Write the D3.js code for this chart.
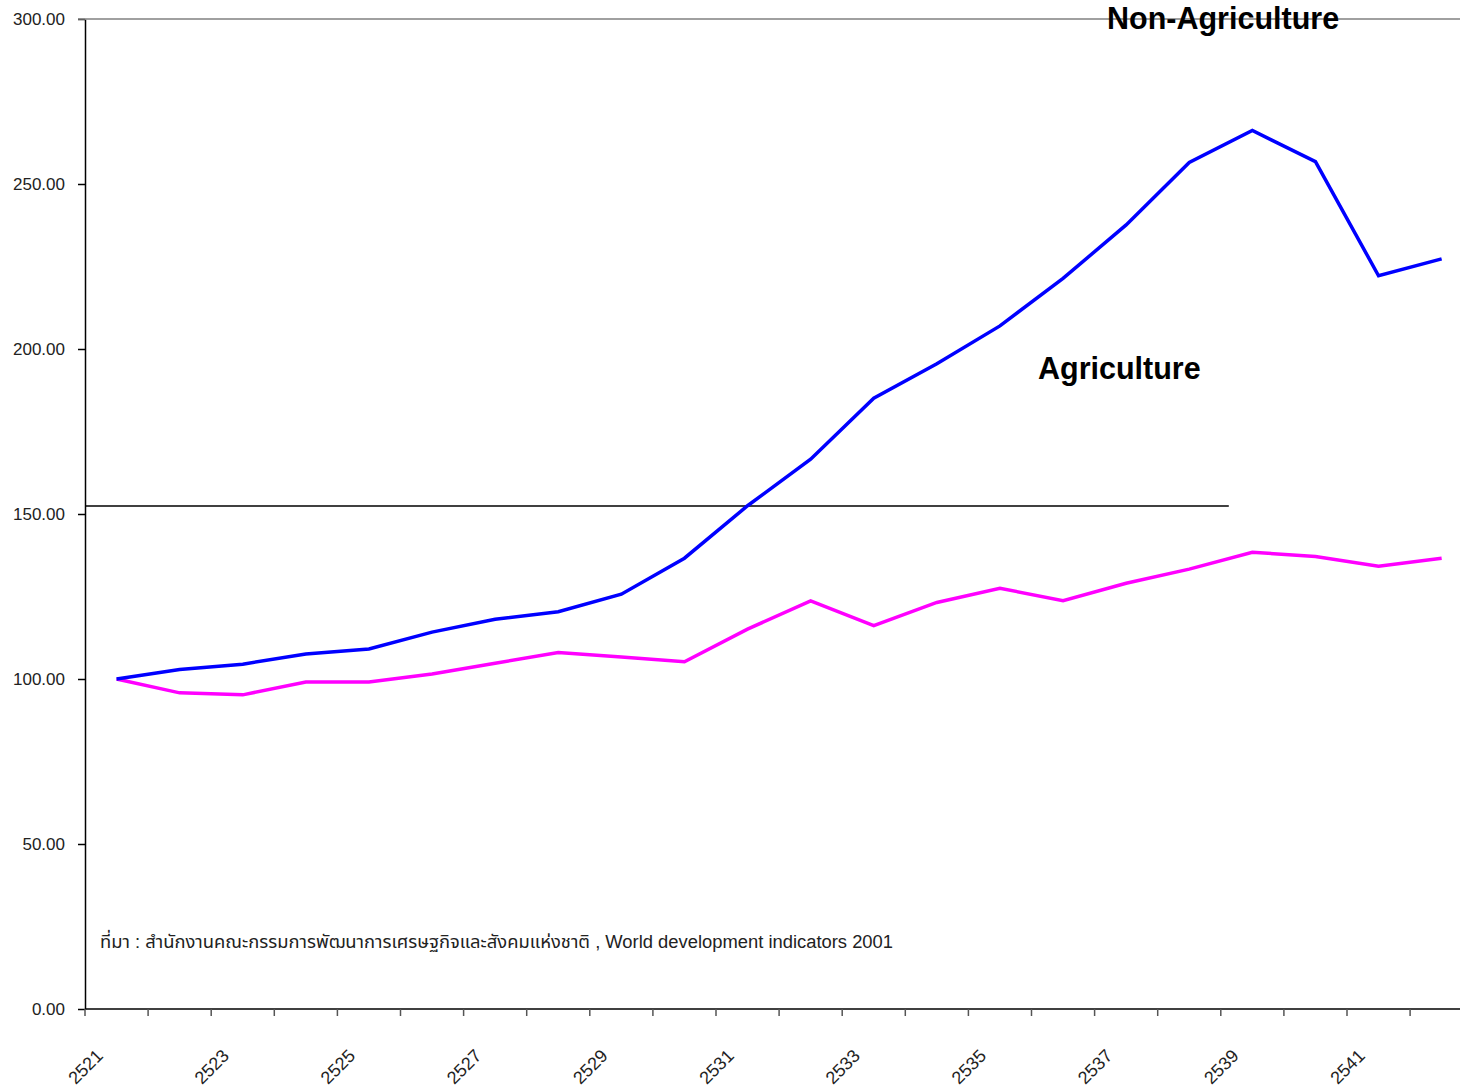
<!DOCTYPE html>
<html>
<head>
<meta charset="utf-8">
<script src="https://cdn.jsdelivr.net/npm/d3@7"></script>
<style>
  body { margin: 0; background: #fff; }
  svg { display: block; font-family: "Liberation Sans", Arial, sans-serif; }
</style>
</head>
<body>
<div id="chart"></div>
<script>
// Index values, base year 2521 = 100
var years = ["2521","2522","2523","2524","2525","2526","2527","2528","2529","2530","2531",
             "2532","2533","2534","2535","2536","2537","2538","2539","2540","2541","2542"];
var nonAgri = [100, 102.9, 104.5, 107.6, 109.1, 114.2, 118.1, 120.4, 125.7, 136.6, 152.5,
               166.6, 185.1, 195.5, 207.0, 221.4, 237.6, 256.5, 266.2, 256.8, 222.2, 227.3];
var agri = [100, 95.8, 95.2, 99.1, 99.1, 101.5, 104.8, 108.0, 106.7, 105.2, 115.1,
            123.7, 116.2, 123.2, 127.5, 123.7, 129.0, 133.3, 138.4, 137.1, 134.2, 136.6];
var yTicks = [0, 50, 100, 150, 200, 250, 300];
var labelYears = years.filter(function(d, i) { return i % 2 === 0; });
var refValue = 152.4;     // horizontal marker line
var refEndYear = "2539";
var sourceText = "ที่มา : สำนักงานคณะกรรมการพัฒนาการเศรษฐกิจและสังคมแห่งชาติ , World development indicators 2001";

var W = 1460, H = 1087;
var margin = {top: 19, left: 85, bottom: 78};
var band = 63.1;

var svg = d3.select("#chart").append("svg")
  .attr("width", W)
  .attr("height", H);

var x = d3.scaleBand()
  .domain(years)
  .range([margin.left, margin.left + band * years.length]);

var y = d3.scaleLinear()
  .domain([0, 300])
  .range([H - margin.bottom, margin.top]);

var cx = function(i) { return x(years[i]) + x.bandwidth() / 2; };

// Y axis
var yAxis = svg.append("g")
  .attr("transform", "translate(" + margin.left + ",0)")
  .call(d3.axisLeft(y).tickValues(yTicks).tickFormat(d3.format(".2f"))
    .tickSize(7).tickSizeOuter(0).tickPadding(13));
yAxis.select(".domain").attr("stroke", "#000").attr("stroke-width", 1.5);
yAxis.selectAll(".tick line").attr("stroke", "#000").attr("stroke-width", 1.5);
yAxis.selectAll("text")
  .style("font-size", "17px")
  .style("fill", "#222")
  .style("font-family", "Liberation Sans, Arial, sans-serif");

// top border
svg.append("line")
  .attr("x1", margin.left - 7).attr("x2", W)
  .attr("y1", y(300)).attr("y2", y(300))
  .attr("stroke", "#808080").attr("stroke-width", 1.5);

// X axis baseline + ticks at band boundaries
svg.append("line")
  .attr("x1", margin.left).attr("x2", W)
  .attr("y1", y(0)).attr("y2", y(0))
  .attr("stroke", "#000").attr("stroke-width", 1.5);

svg.selectAll(".xtick")
  .data(years)
  .enter()
  .append("line")
  .attr("class", "xtick")
  .attr("x1", function(d) { return x(d); })
  .attr("x2", function(d) { return x(d); })
  .attr("y1", y(0))
  .attr("y2", y(0) + 7)
  .attr("stroke", "#555")
  .attr("stroke-width", 1.5);

svg.selectAll(".xlabel")
  .data(labelYears)
  .enter()
  .append("text")
  .attr("class", "xlabel")
  .attr("transform", function(d) {
    return "translate(" + (x(d) + 19) + "," + (y(0) + 48) + ")rotate(-45)";
  })
  .attr("text-anchor", "end")
  .style("font-size", "18px")
  .style("fill", "#222")
  .text(function(d) { return d; });

// reference line
svg.append("line")
  .attr("x1", margin.left)
  .attr("x2", x(refEndYear) + 8)
  .attr("y1", y(refValue)).attr("y2", y(refValue))
  .attr("stroke", "#000").attr("stroke-width", 1.5);

// Lines
var line = d3.line()
  .x(function(d, i) { return cx(i); })
  .y(function(d) { return y(d); });

svg.append("path")
  .datum(agri)
  .attr("d", line)
  .attr("fill", "none")
  .attr("stroke", "#ff00ff")
  .attr("stroke-width", 3.5);

svg.append("path")
  .datum(nonAgri)
  .attr("d", line)
  .attr("fill", "none")
  .attr("stroke", "#0000ff")
  .attr("stroke-width", 3.5);

// Series labels
svg.append("text")
  .attr("x", 1107).attr("y", 29)
  .style("font-size", "30.5px").style("font-weight", "bold")
  .text("Non-Agriculture");

svg.append("text")
  .attr("x", 1038).attr("y", 379)
  .style("font-size", "30.5px").style("font-weight", "bold")
  .text("Agriculture");

// Source note
svg.append("text")
  .attr("x", 100).attr("y", 948)
  .attr("textLength", 793)
  .attr("lengthAdjust", "spacingAndGlyphs")
  .style("font-size", "18px")
  .style("fill", "#222")
  .style("font-family", "'Liberation Sans', 'Noto Sans Thai', Arial, sans-serif")
  .text(sourceText);
</script>
</body>
</html>
